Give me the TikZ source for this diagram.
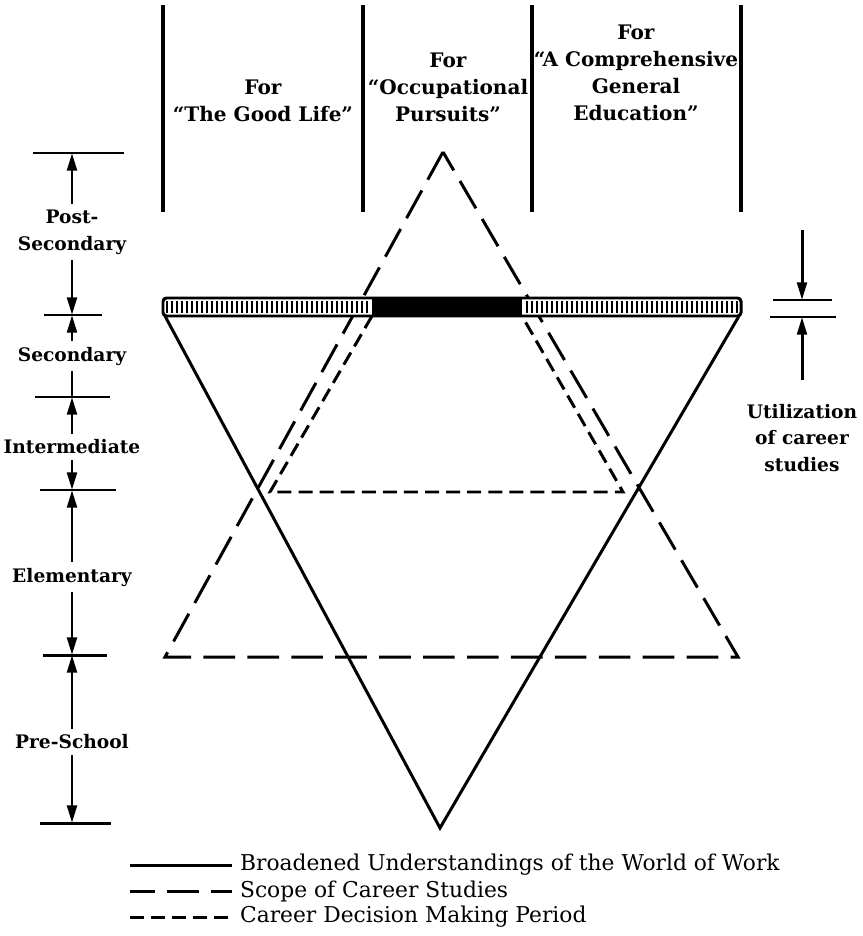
\documentclass[tikz,border=0pt]{standalone}
\usepackage{fontspec}
\setmainfont{DejaVu Serif}
\usepackage{tikz}
\usetikzlibrary{
  arrows.meta,
  positioning,
  calc
}

\begin{document}
\begin{tikzpicture}[
  x=0.02cm, y=-0.02cm,
  head/.style={align=center,font=\bfseries\fontsize{11.4}{15.3}\selectfont,inner sep=1pt},
  lvl/.style={align=center,font=\bfseries\fontsize{10.6}{15.3}\selectfont,inner sep=3pt},
  legendtxt/.style={anchor=west,font=\fontsize{12.4}{14}\selectfont,inner sep=1pt},
  worldline/.style={line width=1.7pt,line join=miter},
  scopeline/.style={line width=1.7pt,dash pattern=on 18pt off 7pt},
  decisionline/.style={line width=1.7pt,dash pattern=on 8pt off 4pt},
  colline/.style={line width=1.8pt},
  tick/.style={line width=1.7pt},
  arr/.style={-{Triangle[length=10pt,width=5.5pt]},line width=1.7pt},
]
\useasboundingbox (0,0) rectangle (862,936);

% column headings
\foreach \x in {163,363,532,741}
  \draw[colline] (\x,5) -- (\x,212);
\node[head] (good) at (263,101) {For\\“The Good Life”};
\node[head] (occ)  at (448,87)  {For\\“Occupational\\Pursuits”};
\node[head] (gen)  at (636,73)  {For\\“A Comprehensive\\General\\Education”};

% triangles
\draw[scopeline] (443,152) -- (165,657) -- (738,657) -- cycle;
\draw[decisionline] (372,316) -- (270,492) -- (623,492) -- (522,316);
\draw[worldline] (165,316) -- (440,828) -- (739,316);

% utilization bar
\fill[white] (163,298) rectangle (741,316);
\foreach \x in {167,172,...,368}
  \draw[line width=1.4pt] (\x,301) -- (\x,313);
\foreach \x in {527,532,...,737}
  \draw[line width=1.4pt] (\x,301) -- (\x,313);
\fill (372,298) rectangle (522,316);
\draw[line width=1.7pt,rounded corners=2pt] (163,298) rectangle (741,316);

% school levels
\foreach \n/\y/\xa/\xb in {1/153/33/124,2/315/44/102,3/397/35/110,
                           4/490/40/116,5/655/43/107,6/823/40/111}{
  \coordinate (t\n) at (72,\y);
  \draw[tick] (\xa,\y) -- (\xb,\y);
}
\node[lvl] (post)  at (72,232) {Post-\\Secondary};
\node[lvl] (sec)   at (72,356) {Secondary};
\node[lvl] (inter) at (72,447) {Intermediate};
\node[lvl] (elem)  at (72,577) {Elementary};
\node[lvl] (pre)   at (72,742) {Pre-School};

\draw[arr] (post.north) -- (t1);
\draw[arr] (post.south) -- (t2);
\draw[arr] (sec.north)  -- (t2);
\draw[tick] (sec.south) -- (t3);
\draw[arr] (inter.north) -- (t3);
\draw[arr] (inter.south) -- (t4);
\draw[arr] (elem.north) -- (t4);
\draw[arr] (elem.south) -- (t5);
\draw[arr] (pre.north)  -- (t5);
\draw[arr] (pre.south)  -- (t6);

% utilization marker
\coordinate (u1) at (802,230);
\coordinate (u2) at (802,300);
\coordinate (u3) at (802,317);
\coordinate (u4) at (802,380);
\draw[tick] (773,300) -- (832,300);
\draw[tick] (770,317) -- (836,317);
\draw[arr] (u1) -- (u2);
\draw[arr] (u4) -- (u3);
\node[lvl] (util) at (802,438) {Utilization\\of career\\studies};

% legend
\coordinate (la) at (130,865);
\coordinate (lb) at (232,865);
\coordinate (lc) at (130,891);
\coordinate (ld) at (232,891);
\coordinate (le) at (130,917);
\coordinate (lf) at (232,917);
\draw[worldline] (la) -- (lb);
\draw[scopeline,dash phase=4pt] (lc) -- (ld);
\draw[decisionline] (le) -- (lf);
\node[legendtxt] (lworld) at (238,865) {Broadened Understandings of the World of Work};
\node[legendtxt] (lscope) at (238,891) {Scope of Career Studies};
\node[legendtxt] (ldec)   at (238,917) {Career Decision Making Period};
\end{tikzpicture}
\end{document}
